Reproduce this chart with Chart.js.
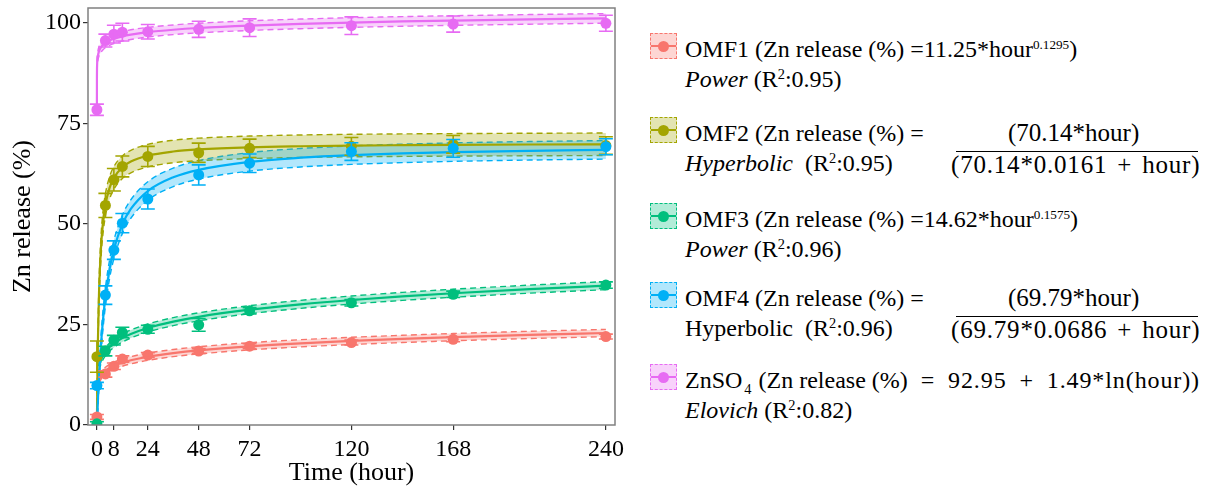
<!DOCTYPE html>
<html>
<head>
<meta charset="utf-8">
<title>Zn release kinetics</title>
<script src="https://cdn.jsdelivr.net/npm/chart.js@4.4.1/dist/chart.umd.min.js"></script>
<style>
  body {
    margin: 0;
    width: 1213px;
    height: 495px;
    overflow: hidden;
    position: relative;
    background: #fff;
    font-family: "Liberation Serif", "Times New Roman", serif;
    color: #000;
  }
  #plot { position: absolute; left: 0; top: 0; }
  .item {
    position: absolute;
    left: 650px;
    width: 560px;
    height: 62px;
    font-size: 24px;
    line-height: 30px;
    white-space: nowrap;
  }
  .item .txt { position: absolute; left: 35px; top: 0; }
  .item .txt div { height: 30px; }
  .key {
    position: absolute;
    left: 0;
    top: -1px;
    width: 27px;
    height: 26px;
    box-sizing: border-box;
    border: 1.5px dashed currentColor;
  }
  .key::before {
    content: '';
    position: absolute;
    left: 0;
    right: 0;
    top: 50%;
    height: 2px;
    margin-top: -1px;
    background: currentColor;
  }
  .key i {
    position: absolute;
    left: 50%;
    top: 50%;
    width: 11px;
    height: 11px;
    margin: -5.5px 0 0 -5.5px;
    border-radius: 50%;
    background: currentColor;
  }
  .frac { position: absolute; left: 300px; width: 252px; font-size: 25px; }
  .frac .num { position: absolute; left: 58px; top: 0; height: 30px; }
  .frac .den { position: absolute; left: 1px; top: 32px; height: 30px; letter-spacing: 0.8px; word-spacing: 3px; }
  .frac .bar { position: absolute; left: 6px; right: 4px; top: 33px; height: 0; border-top: 1.5px solid #000; }
  .tail { letter-spacing: 0.9px; word-spacing: 6px; }
  .sup { font-size: 0.55em; vertical-align: 0.6em; line-height: 0; }
  .r2 { font-size: 0.6em; vertical-align: 0.55em; line-height: 0; }
  .sub { font-size: 0.6em; vertical-align: -0.45em; line-height: 0; margin-left: 2px; margin-right: 7px; }
</style>
</head>
<body>
<canvas id="plot" width="640" height="495"></canvas>

<div class="item" style="top:34px">
  <span class="key"><i></i></span>
  <div class="txt">
    <div>OMF1 (Zn release (%) =11.25*hour<span class="sup">0.1295</span>)</div>
    <div><i>Power</i> (R<span class="r2">2</span>:0.95)</div>
  </div>
</div>

<div class="item" style="top:118px">
  <span class="key"><i></i></span>
  <div class="txt">
    <div>OMF2 (Zn release (%) =</div>
    <div><i>Hyperbolic</i>&nbsp; (R<span class="r2">2</span>:0.95)</div>
  </div>
  <div class="frac">
    <div class="num">(70.14*hour)</div>
    <div class="bar"></div>
    <div class="den">(70.14*0.0161 + hour)</div>
  </div>
</div>

<div class="item" style="top:204px">
  <span class="key"><i></i></span>
  <div class="txt">
    <div>OMF3 (Zn release (%) =14.62*hour<span class="sup">0.1575</span>)</div>
    <div><i>Power</i> (R<span class="r2">2</span>:0.96)</div>
  </div>
</div>

<div class="item" style="top:283px">
  <span class="key"><i></i></span>
  <div class="txt">
    <div>OMF4 (Zn release (%) =</div>
    <div>Hyperbolic&nbsp; (R<span class="r2">2</span>:0.96)</div>
  </div>
  <div class="frac">
    <div class="num">(69.79*hour)</div>
    <div class="bar"></div>
    <div class="den">(69.79*0.0686 + hour)</div>
  </div>
</div>

<div class="item" style="top:365px">
  <span class="key"><i></i></span>
  <div class="txt">
    <div>ZnSO<span class="sub">4</span>(Zn release (%)<span class="tail"> = 92.95 + 1.49*ln(hour))</span></div>
    <div><i>Elovich</i> (R<span class="r2">2</span>:0.82)</div>
  </div>
</div>

<script>
// sampling times (hour) and measured release (%)
const hours = [0, 4, 8, 12, 24, 48, 72, 120, 168, 240];
const omf1 = [2.0, 12.7, 14.6, 16.4, 17.4, 18.4, 19.6, 20.5, 21.3, 22.0];
const omf2 = [17.0, 54.6, 61.0, 64.3, 66.8, 67.7, 68.8, 69.3, 69.8, 69.5];
const omf3 = [0.3, 18.4, 21.1, 23.0, 23.8, 24.9, 28.4, 30.4, 32.5, 34.8];
const omf4 = [9.8, 32.3, 43.5, 50.2, 56.2, 62.2, 65.1, 68.0, 68.8, 69.2];
const znso4 = [78.4, 95.6, 97.2, 97.7, 97.8, 98.4, 98.8, 99.3, 99.7, 99.9];

// standard deviations for the error bars
const omf1Sd = [0.6, 0.8, 0.8, 0.8, 0.6, 0.6, 0.6, 0.6, 0.6, 0.6];
const omf2Sd = [3.9, 3.0, 2.8, 2.6, 2.5, 2.4, 2.3, 2.2, 2.2, 2.2];
const omf3Sd = [0.5, 1.2, 1.2, 1.3, 1.0, 1.6, 0.8, 0.8, 0.8, 0.8];
const omf4Sd = [0.8, 2.3, 2.3, 2.4, 2.5, 2.5, 2.3, 2.2, 2.2, 2.0];
const znso4Sd = [1.4, 1.6, 2.2, 2.2, 1.8, 2.0, 2.2, 2.2, 2.0, 2.0];

// fitted curves, sampled along time
const powHours = [1, 2, 3, 4, 6, 8, 12, 16, 24, 36, 48, 72, 96, 120, 144, 168, 204, 240];
const omf1Fit = [11.25, 12.31, 12.97, 13.46, 14.19, 14.73, 15.52, 16.11, 16.98, 17.89, 18.57, 19.57, 20.32, 20.91, 21.41, 21.85, 22.40, 22.88];
const omf3Fit = [14.62, 16.31, 17.38, 18.19, 19.39, 20.29, 21.62, 22.63, 24.12, 25.71, 26.90, 28.67, 30.00, 31.08, 31.98, 32.77, 33.78, 34.66];

const hypHours = [0, 0.25, 0.5, 1, 2, 3, 4, 6, 8, 12, 16, 24, 36, 48, 72, 96, 120, 144, 168, 204, 240];
const omf2Fit = [0, 12.71, 21.52, 32.94, 44.83, 50.96, 54.70, 59.03, 61.46, 64.11, 65.52, 66.99, 68.01, 68.53, 69.06, 69.32, 69.49, 69.59, 69.67, 69.75, 69.81];
const omf4Fit = [0, 3.46, 6.60, 12.06, 20.56, 26.89, 31.77, 38.82, 43.66, 49.89, 53.72, 58.18, 61.60, 63.46, 65.44, 66.47, 67.11, 67.54, 67.86, 68.19, 68.43];

const logHours = [0.0001, 0.001, 0.01, 0.1, 0.5, 1, 2, 3, 4, 6, 8, 12, 16, 24, 36, 48, 72, 96, 120, 144, 168, 204, 240];
const znso4Fit = [79.23, 82.66, 86.09, 89.52, 91.92, 92.95, 93.98, 94.59, 95.02, 95.62, 96.05, 96.65, 97.08, 97.69, 98.29, 98.72, 99.32, 99.75, 100.08, 100.36, 100.58, 100.87, 101.12];

// half width of the confidence band around each fit
const bandHalf = [0.9, 2.8, 1.0, 2.3, 1.2];

const seriesNames = ['OMF1', 'OMF2', 'OMF3', 'OMF4', 'ZnSO4'];
const colors = ['#F8766D', '#A3A500', '#00BF7D', '#00B0F6', '#E76BF3'];

const xTicks = [0, 8, 24, 48, 72, 120, 168, 240];
const yTicks = [0, 25, 50, 75, 100];

const measured = [omf1, omf2, omf3, omf4, znso4];
const errors = [omf1Sd, omf2Sd, omf3Sd, omf4Sd, znso4Sd];
const fitX = [powHours, hypHours, powHours, hypHours, logHours];
const fitY = [omf1Fit, omf2Fit, omf3Fit, omf4Fit, znso4Fit];

function rgba(hex, a) {
  const n = parseInt(hex.slice(1), 16);
  return `rgba(${(n >> 16) & 255},${(n >> 8) & 255},${n & 255},${a})`;
}

// legend keys take the series colours
document.querySelectorAll('.key').forEach((k, i) => {
  k.style.color = colors[i];
  k.style.background = rgba(colors[i], 0.3);
});

/* =========================================================
   Datasets: band (upper, lower+fill), fit line, points
   ========================================================= */
const datasets = [];
seriesNames.forEach((name, s) => {
  const c = colors[s];
  const upper = fitX[s].map((x, i) => ({ x, y: fitY[s][i] + bandHalf[s] }));
  const lower = fitX[s].map((x, i) => ({ x, y: fitY[s][i] - bandHalf[s] }));
  const fit = fitX[s].map((x, i) => ({ x, y: fitY[s][i] }));
  const pts = hours.map((x, i) => ({ x, y: measured[s][i] }));

  const upperIdx = datasets.length;
  datasets.push({
    label: name + ' upper',
    data: upper,
    borderColor: c,
    borderWidth: 1.4,
    borderDash: [6, 4],
    pointRadius: 0,
    fill: false,
    cubicInterpolationMode: 'monotone',
    order: 40 + (4 - s)
  });
  datasets.push({
    label: name + ' lower',
    data: lower,
    borderColor: c,
    borderWidth: 1.4,
    borderDash: [6, 4],
    pointRadius: 0,
    fill: { target: upperIdx },
    backgroundColor: rgba(c, 0.3),
    cubicInterpolationMode: 'monotone',
    order: 30 + (4 - s)
  });
  datasets.push({
    label: name + ' fit',
    data: fit,
    borderColor: c,
    borderWidth: 2.2,
    pointRadius: 0,
    fill: false,
    cubicInterpolationMode: 'monotone',
    order: 20 + (4 - s)
  });
  datasets.push({
    label: name,
    data: pts,
    showLine: false,
    pointRadius: 5.5,
    pointBackgroundColor: c,
    pointBorderWidth: 0,
    borderColor: c,
    errors: errors[s],
    order: 10 + (4 - s)
  });
});

// vertical error bars with caps, drawn right after each point dataset
const errorBars = {
  id: 'errorBars',
  afterDatasetDraw(chart, args) {
    const ds = chart.data.datasets[args.index];
    if (!ds.errors) return;
    const { ctx, chartArea, scales } = chart;
    ctx.save();
    ctx.beginPath();
    ctx.rect(chartArea.left, chartArea.top, chartArea.right - chartArea.left, chartArea.bottom - chartArea.top);
    ctx.clip();
    ctx.strokeStyle = ds.borderColor;
    ctx.lineWidth = 1.6;
    ds.data.forEach((p, i) => {
      const x = scales.x.getPixelForValue(p.x);
      const y1 = scales.y.getPixelForValue(p.y - ds.errors[i]);
      const y2 = scales.y.getPixelForValue(p.y + ds.errors[i]);
      ctx.beginPath();
      ctx.moveTo(x, y1); ctx.lineTo(x, y2);
      ctx.moveTo(x - 7, y1); ctx.lineTo(x + 7, y1);
      ctx.moveTo(x - 7, y2); ctx.lineTo(x + 7, y2);
      ctx.stroke();
    });
    ctx.restore();
  }
};

// grey frame round the plotting area
const frame = {
  id: 'frame',
  afterDraw(chart) {
    const { ctx, chartArea: a } = chart;
    ctx.save();
    ctx.strokeStyle = '#808080';
    ctx.lineWidth = 1.5;
    ctx.strokeRect(a.left, a.top, a.right - a.left, a.bottom - a.top);
    ctx.restore();
  }
};

const serif = "'Liberation Serif', 'Times New Roman', serif";

new Chart(document.getElementById('plot').getContext('2d'), {
  type: 'line',
  data: { datasets },
  plugins: [errorBars, frame],
  options: {
    responsive: false,
    animation: false,
    layout: { padding: { top: 8, right: 25, bottom: 0, left: 0 } },
    plugins: {
      legend: { display: false },
      tooltip: { enabled: false }
    },
    scales: {
      x: {
        type: 'linear',
        min: -4.2,
        max: 244.3,
        afterBuildTicks: sc => { sc.ticks = xTicks.map(v => ({ value: v })); },
        afterFit: sc => { sc.height = 70; sc.paddingLeft = 0; sc.paddingRight = 0; },
        ticks: {
          color: '#000',
          padding: 5,
          maxRotation: 0,
          autoSkip: false,
          font: { family: serif, size: 24 }
        },
        grid: { drawOnChartArea: false, drawTicks: true, tickLength: 5, color: '#333', lineWidth: 1.2 },
        border: { display: false },
        title: {
          display: true,
          text: 'Time (hour)',
          color: '#000',
          padding: { top: 0, bottom: 6 },
          font: { family: serif, size: 26 }
        }
      },
      y: {
        min: 0,
        max: 103.7,
        afterBuildTicks: sc => { sc.ticks = yTicks.map(v => ({ value: v })); },
        afterFit: sc => { sc.width = 88; sc.paddingTop = 0; sc.paddingBottom = 0; },
        ticks: {
          color: '#000',
          padding: 2,
          font: { family: serif, size: 24 }
        },
        grid: { drawOnChartArea: false, drawTicks: true, tickLength: 5, color: '#333', lineWidth: 1.2 },
        border: { display: false },
        title: {
          display: true,
          text: 'Zn release (%)',
          color: '#000',
          padding: { top: 8, bottom: 0 },
          font: { family: serif, size: 26 }
        }
      }
    }
  }
});
</script>
</body>
</html>
